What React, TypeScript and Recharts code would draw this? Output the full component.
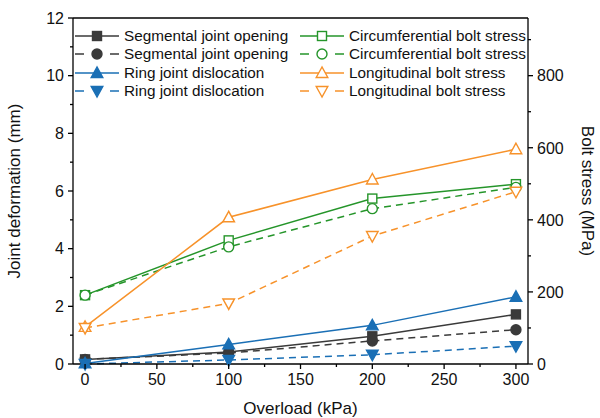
import { LineChart, Line, XAxis, YAxis, ReferenceLine, Legend, Label } from "recharts"

// overload steps (kPa)
const overload = [0, 100, 200, 300]

// joint deformation (mm), left axis
const segOpeningA = [0.16, 0.42, 0.96, 1.72]
const segOpeningB = [0.16, 0.38, 0.8, 1.19]
const ringDislocA = [0.02, 0.68, 1.34, 2.33]
const ringDislocB = [0, 0.14, 0.32, 0.62]

// bolt stress (MPa), right axis
const circStressA = [191, 343, 459, 499]
const circStressB = [191, 325, 431, 490]
const longStressA = [103, 407, 512, 596]
const longStressB = [100, 168, 355, 478]

const xTicks = [0, 25, 50, 75, 100, 125, 150, 175, 200, 225, 250, 275, 300]
const leftTicks = [0, 1, 2, 3, 4, 5, 6, 7, 8, 9, 10, 11, 12]
const rightTicks = [0, 100, 200, 300, 400, 500, 600, 700, 800, 900]

const data = overload.map((x, i) => ({
  x,
  segA: segOpeningA[i],
  segB: segOpeningB[i],
  ringA: ringDislocA[i],
  ringB: ringDislocB[i],
  circA: circStressA[i],
  circB: circStressB[i],
  longA: longStressA[i],
  longB: longStressB[i],
}))

const FONT = '"Liberation Sans", Arial, sans-serif'
const GREY = "#3a3a3a"
const BLUE = "#1a6fb5"
const GREEN = "#25952a"
const ORANGE = "#f7922a"

type Shape = "square" | "circle" | "up" | "down"

interface SeriesDef {
  key: string
  name: string
  axis: "left" | "right"
  color: string
  shape: Shape
  filled: boolean
  dashed: boolean
}

const series: SeriesDef[] = [
  { key: "segA", name: "Segmental joint opening", axis: "left", color: GREY, shape: "square", filled: true, dashed: false },
  { key: "segB", name: "Segmental joint opening", axis: "left", color: GREY, shape: "circle", filled: true, dashed: true },
  { key: "ringA", name: "Ring joint dislocation", axis: "left", color: BLUE, shape: "up", filled: true, dashed: false },
  { key: "ringB", name: "Ring joint dislocation", axis: "left", color: BLUE, shape: "down", filled: true, dashed: true },
  { key: "circA", name: "Circumferential bolt stress", axis: "right", color: GREEN, shape: "square", filled: false, dashed: false },
  { key: "circB", name: "Circumferential bolt stress", axis: "right", color: GREEN, shape: "circle", filled: false, dashed: true },
  { key: "longA", name: "Longitudinal bolt stress", axis: "right", color: ORANGE, shape: "up", filled: false, dashed: false },
  { key: "longB", name: "Longitudinal bolt stress", axis: "right", color: ORANGE, shape: "down", filled: false, dashed: true },
]

function Marker({ cx, cy, s }: { cx: number; cy: number; s: SeriesDef }) {
  const fill = s.filled ? s.color : "#fff"
  const common = { fill, stroke: s.color, strokeWidth: 1.4 }
  switch (s.shape) {
    case "square":
      return <rect x={cx - 4.5} y={cy - 4.5} width={9} height={9} {...common} />
    case "circle":
      return <circle cx={cx} cy={cy} r={5} {...common} />
    case "up":
      return <polygon points={`${cx},${cy - 6} ${cx - 5.8},${cy + 4.5} ${cx + 5.8},${cy + 4.5}`} {...common} />
    default:
      return <polygon points={`${cx},${cy + 6} ${cx - 5.8},${cy - 4.5} ${cx + 5.8},${cy - 4.5}`} {...common} />
  }
}

const makeDot = (s: SeriesDef) => (props: any) => {
  const { cx, cy, index } = props
  return (
    <g key={`${s.key}-${index}`}>
      <Marker cx={cx} cy={cy} s={s} />
    </g>
  )
}

const BottomTick = (props: any) => {
  const { x, y, payload } = props
  const major = payload.value % 50 === 0
  return (
    <g>
      <line x1={x} x2={x} y1={y} y2={y + (major ? 5 : 3)} stroke="#000" strokeWidth={1.3} />
      {major && (
        <text x={x} y={y + 10} dy="0.71em" textAnchor="middle" fontSize={16} fontFamily={FONT} fill="#111">
          {payload.value}
        </text>
      )}
    </g>
  )
}

const LeftTick = (props: any) => {
  const { x, y, payload } = props
  const major = payload.value % 2 === 0
  return (
    <g>
      <line x1={x} x2={x - (major ? 5 : 3)} y1={y} y2={y} stroke="#000" strokeWidth={1.3} />
      {major && (
        <text x={x - 9} y={y} dy="0.36em" textAnchor="end" fontSize={16} fontFamily={FONT} fill="#111">
          {payload.value}
        </text>
      )}
    </g>
  )
}

const RightTick = (props: any) => {
  const { x, y, payload } = props
  const major = payload.value % 200 === 0
  return (
    <g>
      <line x1={x} x2={x + (major ? 5 : 3)} y1={y} y2={y} stroke="#000" strokeWidth={1.3} />
      {major && (
        <text x={x + 9} y={y} dy="0.36em" textAnchor="start" fontSize={16} fontFamily={FONT} fill="#111">
          {payload.value}
        </text>
      )}
    </g>
  )
}

function LegendSwatch({ s }: { s: SeriesDef }) {
  return (
    <svg width={44} height={16} style={{ display: "block" }}>
      {s.dashed ? (
        <>
          <line x1={0} x2={9} y1={8} y2={8} stroke={s.color} strokeWidth={1.5} />
          <line x1={35} x2={44} y1={8} y2={8} stroke={s.color} strokeWidth={1.5} />
        </>
      ) : (
        <line x1={0} x2={44} y1={8} y2={8} stroke={s.color} strokeWidth={1.5} />
      )}
      <Marker cx={22} cy={8} s={s} />
    </svg>
  )
}

const LegendBox = () => {
  const cols = [series.slice(0, 4), series.slice(4)]
  return (
    <div style={{ display: "flex", gap: 0 }}>
      {cols.map((col, ci) => (
        <div key={ci} style={{ width: ci === 0 ? 225 : 240 }}>
          {col.map((s) => (
            <div key={s.key} style={{ display: "flex", alignItems: "center", height: 18.3 }}>
              <LegendSwatch s={s} />
              <span style={{ marginLeft: 5, fontSize: 15.3, fontFamily: FONT, color: "#111", whiteSpace: "nowrap" }}>
                {s.name}
              </span>
            </div>
          ))}
        </div>
      ))}
    </div>
  )
}

export default function App() {
  return (
    <div style={{ position: "absolute", left: 0, top: 0, width: 600, height: 418, background: "#fff" }}>
      <LineChart width={600} height={418} data={data} margin={{ top: 18, right: 0, bottom: 0, left: 0 }}>
        <XAxis
          dataKey="x"
          type="number"
          domain={[-8.4, 308.4]}
          ticks={xTicks}
          interval={0}
          tickSize={0}
          tickMargin={0}
          tick={<BottomTick />}
          height={54}
          axisLine={{ stroke: "#000", strokeWidth: 1.3 }}
          tickLine={false}
        >
          <Label value="Overload (kPa)" position="insideBottom" offset={4} fontSize={17} fontFamily={FONT} fill="#111" />
        </XAxis>
        <YAxis
          yAxisId="left"
          orientation="left"
          type="number"
          domain={[0, 12]}
          ticks={leftTicks}
          interval={0}
          width={73}
          tickSize={0}
          tickMargin={0}
          tick={<LeftTick />}
          axisLine={{ stroke: "#000", strokeWidth: 1.3 }}
          tickLine={false}
        >
          <Label
            value="Joint deformation (mm)"
            angle={-90}
            position="insideLeft"
            offset={14}
            style={{ textAnchor: "middle" }}
            fontSize={17}
            fontFamily={FONT}
            fill="#111"
          />
        </YAxis>
        <YAxis
          yAxisId="right"
          orientation="right"
          type="number"
          domain={[0, 960]}
          ticks={rightTicks}
          interval={0}
          width={72}
          tickSize={0}
          tickMargin={0}
          tick={<RightTick />}
          axisLine={{ stroke: "#000", strokeWidth: 1.3 }}
          tickLine={false}
        >
          <Label
            value="Bolt stress (MPa)"
            angle={90}
            position="insideRight"
            offset={12}
            style={{ textAnchor: "middle" }}
            fontSize={17}
            fontFamily={FONT}
            fill="#111"
          />
        </YAxis>
        <ReferenceLine yAxisId="left" y={12} stroke="#000" strokeWidth={1.3} />
        {series.map((s) => (
          <Line
            key={s.key}
            yAxisId={s.axis}
            dataKey={s.key}
            name={s.name}
            type="linear"
            stroke={s.color}
            strokeWidth={1.5}
            strokeDasharray={s.dashed ? "7 5" : undefined}
            dot={makeDot(s)}
            activeDot={false}
            isAnimationActive={false}
          />
        ))}
        <Legend
          layout="horizontal"
          verticalAlign="middle"
          align="center"
          content={<LegendBox />}
          wrapperStyle={{ left: 75, top: 27, width: 470, height: 76 }}
        />
      </LineChart>
    </div>
  )
}
